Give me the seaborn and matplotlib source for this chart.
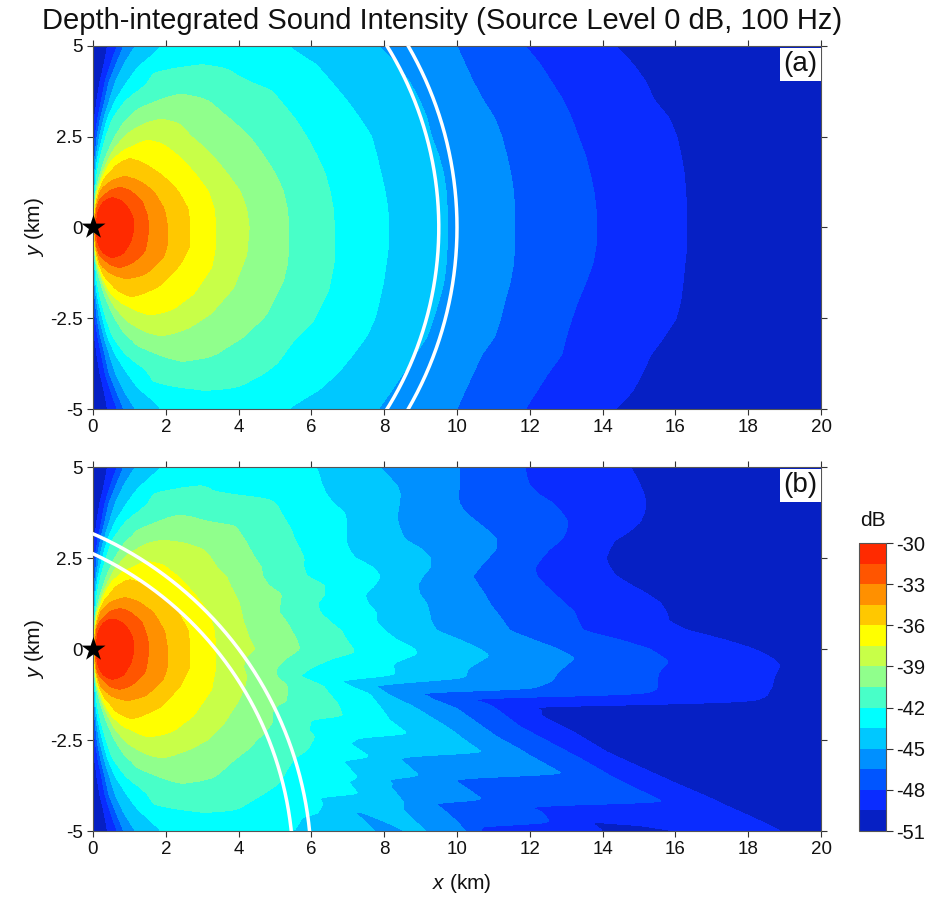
import numpy as np
import pandas as pd
import matplotlib
matplotlib.use("Agg")
import matplotlib.pyplot as plt
import seaborn as sns

# ---- dB levels and band colours -------------------------------------------------
band_edges = [-51, -49.5, -48, -46.5, -45, -43.5, -42, -40.5, -39, -37.5, -36, -34.5, -33, -31.5, -30]
band_colours = ["#0620C4", "#0A2CFF", "#0055FF", "#0090FF", "#00C8FF", "#00FFFF", "#48FFC8",
                "#90FF8C", "#C8FF48", "#FFFF00", "#FFC800", "#FF9000", "#FF5500", "#FF2A00"]
cbar_ticks = [-30, -33, -36, -39, -42, -45, -48, -51]
x_ticks = list(range(0, 21, 2))
y_ticks = [5, 2.5, 0, -2.5, -5]
y_tick_labels = ["5", "2.5", "0", "-2.5", "-5"]

# ---- near-source side of each contour: (|y| km, x km) ----------------------------
near = {
    -49.5: [(0, 0), (2.5, .01), (3, .05), (3.5, .12), (4, .21), (4.5, .33), (5, .42)],
    -48: [(0, 0), (2, .03), (2.5, .06), (3, .14), (3.5, .24), (4, .33), (4.5, .49), (5, .67)],
    -46.5: [(0, 0), (1.5, .01), (2, .05), (2.5, .10), (3, .19), (3.5, .32), (4, .43), (4.5, .63), (5, .83)],
    -45: [(0, 0), (1, .01), (1.5, .03), (2, .08), (2.5, .17), (3, .30), (3.5, .45), (4, .60), (4.5, .83), (5, 1.15)],
    -43.5: [(0, 0), (1, .02), (1.5, .06), (2, .15), (2.5, .27), (3, .39), (3.5, .60), (4, .92), (4.5, 1.29), (5, 1.84)],
    -42: [(0, 0), (1, .03), (1.5, .08), (2, .19), (2.5, .33), (3, .51), (3.5, .88), (4, 1.47), (4.3, 1.66), (4.4, 2.3), (4.5, 3.03)],
    -40.5: [(0, 0), (.5, .02), (1.04, .10), (1.87, .33), (2.42, .56), (2.88, .83), (3.29, 1.2), (3.53, 1.84), (3.7, 2.39)],
    -39: [(0, 0), (.5, .04), (.95, .10), (1.55, .28), (2.16, .56), (2.62, .92), (2.89, 1.43), (3, 1.89)],
    -37.5: [(0, 0), (.5, .05), (.76, .05), (1.31, .19), (1.82, .47), (2.14, .79), (2.28, 1.15), (2.42, 1.47)],
    -36: [(0, 0), (.58, .04), (1.04, .15), (1.41, .33), (1.73, .6), (1.92, 1.0)],
    -34.5: [(0, 0), (.67, .05), (1.04, .19), (1.31, .47), (1.42, .88)],
    -33: [(0, 0), (.49, .05), (.76, .19), (1.03, .42), (1.12, .74)],
    -31.5: [(0, 0), (.25, .02), (.49, .10), (.72, .24), (.85, .51)],
}

# ---- far side of the inner contours, shared by both panels: (y km, x km) ---------
core = {
    -31.5: [(.85, .51), (.72, .83), (.49, 1.02), (.3, 1.11), (0, 1.15), (-.38, 1.06), (-.74, .83), (-.85, .51)],
    -33: [(1.12, .74), (1.03, 1.02), (.75, 1.34), (.3, 1.5), (0, 1.52), (-.3, 1.5), (-.65, 1.43), (-.97, 1.11), (-1.12, .74)],
    -34.5: [(1.42, .88), (1.3, 1.27), (1, 1.66), (.5, 1.96), (0, 2.05), (-.5, 2.04), (-.84, 1.93), (-1.29, 1.47), (-1.42, .99)],
    -36: [(1.92, 1.0), (1.75, 1.43), (1.5, 1.84), (1, 2.34), (.5, 2.62), (0, 2.66), (-.5, 2.66), (-1.02, 2.39), (-1.62, 1.84), (-1.92, 1.11)],
    -37.5: [(2.42, 1.47), (2.3, 1.93), (2, 2.34), (1.5, 2.8), (1, 3.17), (.5, 3.33), (0, 3.37), (-.5, 3.37), (-1.11, 3.26), (-1.85, 2.76), (-2.26, 2.21), (-2.42, 1.61)],
}

# ---- far side of the outer contours, panel (a) -----------------------------------
panel_a = {
    -39: [(3, 1.89), (2.85, 2.39), (2.5, 2.71), (2, 3.26), (1.5, 3.67), (1, 4.04), (.5, 4.22), (0, 4.29), (-.74, 4.22), (-1.66, 3.86), (-2.4, 3.21), (-2.76, 2.66), (-3, 1.93)],
    -40.5: [(3.7, 2.39), (3.6, 2.8), (3.5, 3.17), (3, 3.76), (2.5, 4.31), (2, 4.68), (1.5, 5.0), (1, 5.23), (.5, 5.34), (0, 5.38), (-.5, 5.38), (-1, 5.34), (-1.48, 5.23), (-2.4, 4.77), (-3.04, 4.13), (-3.54, 3.31), (-3.7, 2.48)],
    -42: [(4.5, 3.03), (4.38, 3.67), (4.2, 3.95), (4, 4.36), (3.79, 4.91), (3.5, 5.14), (3, 5.55), (2.5, 5.87), (2, 6.14), (1.5, 6.37), (1, 6.51), (.5, 6.6), (0, 6.63), (-.5, 6.63), (-1, 6.62), (-1.75, 6.47), (-2.58, 6.05), (-3.13, 5.5), (-3.77, 5.05), (-4.05, 4.68), (-4.42, 3.95), (-4.5, 3.03)],
    -43.5: [(5, 5.37), (4.5, 6.13), (4, 6.56), (3.5, 6.97), (3, 7.34), (2.5, 7.66), (2, 7.79), (1.5, 7.91), (1, 8.02), (.5, 8.1), (0, 8.12), (-.5, 8.12), (-1, 8.05), (-1.5, 7.98), (-2, 7.87), (-2.5, 7.75), (-3, 7.52), (-3.5, 7.15), (-4, 6.74), (-4.5, 6.19), (-5, 5.37)],
    -45: [(5, 7.84), (4.5, 8.34), (4, 8.71), (3.5, 8.98), (3, 9.18), (2.5, 9.3), (2, 9.49), (1.5, 9.63), (1, 9.7), (.5, 9.73), (0, 9.73), (-.5, 9.73), (-1, 9.7), (-1.5, 9.64), (-2, 9.51), (-2.5, 9.35), (-3, 9.18), (-3.5, 8.85), (-4, 8.53), (-4.5, 8.2), (-5, 7.84)],
    -46.5: [(5, 10.0), (4.5, 10.22), (4, 10.45), (3.5, 10.72), (3, 11.04), (2.5, 11.23), (2, 11.36), (1.5, 11.47), (1, 11.55), (.5, 11.58), (0, 11.59), (-.5, 11.58), (-1, 11.55), (-1.5, 11.46), (-2, 11.32), (-2.5, 11.2), (-3, 11.04), (-3.5, 10.68), (-4, 10.45), (-4.5, 10.22), (-5, 10.0)],
    -48: [(5, 11.87), (4.5, 12.28), (4, 12.6), (3.5, 12.92), (3, 13.15), (2.5, 13.33), (2, 13.52), (1.5, 13.65), (1, 13.76), (.5, 13.82), (0, 13.84), (-.5, 13.82), (-1, 13.73), (-1.5, 13.54), (-2, 13.33), (-2.5, 13.15), (-3, 13.0), (-3.5, 12.88), (-4, 12.51), (-4.5, 12.19), (-5, 11.87)],
    -49.5: [(5, 14.3), (4.5, 14.8), (4, 15.17), (3.5, 15.39), (3, 15.81), (2.5, 16.02), (2, 16.13), (1.5, 16.22), (1, 16.26), (.5, 16.29), (0, 16.29), (-.5, 16.29), (-1, 16.24), (-1.5, 16.19), (-2, 16.13), (-2.5, 16.0), (-3, 15.67), (-3.5, 15.3), (-4, 15.07), (-4.5, 14.8), (-5, 14.3)],
}

# ---- far side of the outer contours, panel (b) -----------------------------------
panel_b = {
    -39: [(3, 1.89), (2.9, 2.55), (2.75, 3.03), (2.5, 3.26), (2.25, 3.4), (2, 3.67), (1.75, 3.77), (1.5, 3.9), (1.25, 4.02), (1, 4.08), (.75, 4.13), (.5, 4.22), (.25, 4.31), (0, 4.45), (-.25, 4.18), (-.5, 4.13), (-.75, 4.22), (-1, 4.18), (-1.25, 4.07), (-1.5, 3.95), (-1.75, 3.78), (-2, 3.63), (-2.25, 3.4), (-2.5, 3.17), (-2.76, 2.66), (-3, 1.93)],
    -40.5: [(3.7, 2.39), (3.5, 3.12), (3.4, 3.9), (3.25, 4.02), (3, 4.18), (2.75, 4.31), (2.5, 4.45), (2.25, 4.63), (2, 4.66), (1.75, 4.82), (1.5, 5.18), (1.25, 5.14), (1, 5.12), (.75, 5.32), (.5, 5.46), (.25, 5.6), (0, 5.68), (-.25, 5.32), (-.5, 5.05), (-.75, 5.05), (-1, 5.34), (-1.25, 5.34), (-1.45, 5.3), (-1.55, 5.05), (-1.75, 4.91), (-2, 4.94), (-2.25, 4.77), (-2.5, 4.5), (-2.75, 4.27), (-3, 3.95), (-3.25, 3.67), (-3.54, 3.31), (-3.7, 2.48)],
    -42: [(4.5, 3.03), (4.32, 3.31), (4.2, 4.2), (4.15, 4.77), (4, 5.05), (3.75, 5.18), (3.5, 5.32), (3.25, 5.46), (3, 5.55), (2.75, 5.69), (2.5, 5.8), (2.25, 5.78), (2, 5.87), (1.75, 6.37), (1.5, 6.37), (1.25, 6.17), (1, 6.24), (.75, 6.51), (.5, 6.83), (.25, 6.97), (0, 7.15), (-.09, 7.2), (-.25, 6.6), (-.5, 6.0), (-.75, 5.64), (-1, 6.33), (-1.25, 6.51), (-1.5, 6.74), (-1.86, 6.88), (-1.92, 5.98), (-2.25, 5.92), (-2.41, 6.1), (-2.75, 5.92), (-3, 5.55), (-3.25, 5.37), (-3.5, 5.23), (-3.75, 5.05), (-4.05, 4.59), (-4.42, 3.95), (-4.5, 3.03)],
    -43.5: [(5, 6.15), (4.75, 6.24), (4.5, 6.31), (4.25, 6.42), (4, 6.6), (3.75, 6.92), (3.5, 6.97), (3.25, 6.95), (3, 6.95), (2.75, 7.02), (2.5, 7.2), (2.25, 7.7), (2, 7.91), (1.75, 7.75), (1.5, 7.47), (1.25, 7.56), (1, 7.79), (.75, 7.79), (.5, 8.02), (.25, 8.35), (0, 8.85), (-.14, 8.9), (-.39, 8.25), (-.72, 8.3), (-.87, 6.69), (-1.22, 7.61), (-1.95, 8.16), (-2.36, 8.71), (-2.42, 7.2), (-2.45, 7.29), (-2.59, 7.02), (-3, 7.66), (-3.05, 6.85), (-3.55, 7.29), (-3.64, 7.02), (-4.01, 7.34), (-4.06, 6.15), (-4.24, 6.33), (-4.56, 6.14), (-4.6, 5.78), (-4.97, 5.55), (-5, 5.45)],
    -45: [(5, 7.88), (4.75, 8.11), (4.5, 8.36), (4.25, 8.45), (4, 8.42), (3.75, 8.37), (3.5, 8.37), (3.25, 8.45), (3, 8.57), (2.75, 9.03), (2.5, 9.28), (2.25, 9.28), (2, 9.06), (1.75, 8.91), (1.5, 8.98), (1.25, 9.17), (1, 9.24), (.75, 9.29), (.5, 9.44), (.25, 10.08), (0, 10.63), (-.18, 10.9), (-.53, 10.31), (-.8, 10.22), (-.99, 7.61), (-1.32, 8.25), (-1.58, 8.8), (-2.13, 9.72), (-2.87, 10.77), (-2.93, 8.65), (-3, 8.4), (-3.51, 8.98), (-3.57, 8.0), (-3.69, 8.25), (-3.78, 8.16), (-4.24, 8.57), (-4.42, 8.53), (-5, 9.17)],
    -46.5: [(5, 10.08), (4.5, 10.08), (4.25, 10.02), (4, 10.06), (3.75, 10.22), (3.5, 10.54), (3.25, 10.86), (3, 11.11), (2.75, 11.09), (2.5, 10.86), (2.25, 10.63), (2, 10.43), (1.75, 10.59), (1.5, 10.77), (1.25, 10.9), (1, 11.09), (.75, 11.28), (.5, 11.46), (.25, 12.1), (0, 12.78), (-.25, 13.24), (-.62, 12.79), (-.9, 12.6), (-1.12, 12.0), (-1.17, 8.8), (-1.63, 9.99), (-2.41, 11.09), (-2.96, 12.1), (-3.46, 13.0), (-3.52, 10.6), (-3.56, 9.85), (-4.15, 10.72), (-4.2, 9.3), (-4.42, 9.62), (-5, 10.27)],
    -48: [(5, 11.87), (4.75, 11.9), (4.5, 11.99), (4.25, 12.24), (4, 12.65), (3.75, 12.88), (3.5, 13.06), (3.25, 13.01), (3, 12.88), (2.75, 12.55), (2.5, 12.33), (2.25, 12.14), (2, 12.19), (1.75, 12.42), (1.5, 12.69), (1.25, 12.97), (1, 13.24), (.75, 13.33), (.5, 13.47), (.25, 14.48), (0, 15.3), (-.35, 15.83), (-.65, 15.53), (-1.13, 15.49), (-1.26, 15.03), (-1.3, 13.0), (-1.33, 10.13), (-1.58, 11.0), (-2.13, 11.73), (-3, 13.38), (-3.42, 14.11), (-4.24, 15.8), (-4.3, 11.9), (-4.51, 12.37), (-4.79, 12.55), (-4.82, 10.7), (-5, 10.6)],
    -49.5: [(5, 14.73), (4.75, 14.89), (4.5, 15.01), (4.25, 15.12), (4, 15.17), (3.75, 15.12), (3.5, 15.01), (3.25, 14.71), (3, 14.31), (2.75, 14.16), (2.5, 14.06), (2.25, 14.16), (2, 14.34), (1.75, 14.75), (1.5, 15.21), (1.25, 15.58), (1, 15.74), (.75, 15.81), (.5, 16.31), (.25, 17.32), (0, 18.14), (-.25, 18.65), (-.44, 18.87), (-.75, 18.72), (-1, 18.66), (-1.3, 18.5), (-1.45, 18.14), (-1.52, 15.3), (-1.54, 11.55), (-1.68, 12.28), (-1.86, 12.28), (-2.32, 13.2), (-2.87, 14.11), (-3.69, 15.94), (-4.47, 17.77), (-4.97, 18.87), (-5, 18.92)],
}

# small closed patches of a lower band in panel (b): y, x start, x end
pocket_45_y = [-4.42, -4.5, -4.75, -5]
pocket_45_start = [7.01, 7.2, 7.5, 7.75]
pocket_45_end = [7.01, 7.4, 8.0, 8.5]
pocket_495_y = [-4.74, -4.85, -5]
pocket_495_start = [13.65, 13.8, 14.0]
pocket_495_end = [13.65, 15.0, 15.94]

# range rings: centre x, centre y, radii (km)
ring_a = (0, 0, [9.5, 10])
ring_b = (-4, -6, [9.5, 10])

FLOOR = -50.25
xg = np.linspace(0, 20, 1401)
yg = np.linspace(-5, 5, 1001)


def crossing(table, y):
    ys, xs = np.array(table)[::-1].T
    return None if y < ys[0] or y > ys[-1] else np.interp(y, ys, xs)


def build_field(far):
    rows = []
    levels = sorted(far)
    for y in yg:
        px, pz = [-0.02], [FLOOR]
        right = []
        top = None
        for lev in levels:
            xr = crossing(far[lev], y)
            if xr is None:
                continue
            n = np.array(near[lev]).T
            xl = min(np.interp(abs(y), n[0], n[1]), xr)
            px.append(xl)
            pz.append(lev)
            right.append((xr, lev))
            top = lev
        last_l, last_r = px[-1], right[-1][0]
        px.append((last_l + last_r) / 2)
        pz.append(top + .75)
        for xr, lev in reversed(right):
            px.append(xr)
            pz.append(lev)
        px.append(21)
        pz.append(FLOOR)
        px = np.array(px)
        for i in range(1, len(px)):
            if px[i] <= px[i - 1]:
                px[i] = px[i - 1] + 2e-4
        rows.append(np.interp(xg, px, pz))
    return np.array(rows)


def add_pocket(Z, value, ys, starts, ends):
    X, Y = np.meshgrid(xg, yg)
    inside = (Y <= ys[0]) & (X >= np.interp(Y, ys[::-1], starts[::-1])) & (X <= np.interp(Y, ys[::-1], ends[::-1]))
    Z[inside] = value


def soften(Z, win_y=13, win_x=7, passes=2):
    # rounds the corners between read-off points, as in the smooth original contours
    for axis, win in [(0, win_y), (1, win_x)]:
        for _ in range(passes):
            pad = [(0, 0), (0, 0)]
            pad[axis] = (win // 2 + 1, win // 2)
            cum = np.cumsum(np.pad(Z, pad, mode="edge"), axis=axis)
            Z = (np.take(cum, range(win, cum.shape[axis]), axis=axis)
                 - np.take(cum, range(0, cum.shape[axis] - win), axis=axis)) / win
    return Z


sns.set_theme(style="ticks", rc={"axes.unicode_minus": False})
plt.rcParams["font.family"] = ["Liberation Sans", "DejaVu Sans"]
plt.rcParams.update({"mathtext.fontset": "custom", "mathtext.rm": "Liberation Sans",
                     "mathtext.it": "Liberation Sans:italic"})

W, H = 928, 897
fig = plt.figure(figsize=(W / 100, H / 100), dpi=100)


def box(l, t, r, b):
    return [l / W, 1 - b / H, (r - l) / W, (b - t) / H]


ax_a = fig.add_axes(box(93, 46, 821, 409))
ax_b = fig.add_axes(box(93, 467, 821, 831))
cax = fig.add_axes(box(859, 543, 886, 831))

Z_a = soften(build_field({**core, **panel_a}))
Z_b = build_field({**core, **panel_b})
add_pocket(Z_b, -45.75, pocket_45_y, pocket_45_start, pocket_45_end)
add_pocket(Z_b, FLOOR, pocket_495_y, pocket_495_start, pocket_495_end)
Z_b = soften(Z_b, win_y=9, win_x=7)

EDGE = "#555555"
for ax, Z, ring, tag in [(ax_a, Z_a, ring_a, "(a)"), (ax_b, Z_b, ring_b, "(b)")]:
    cs = ax.contourf(xg, yg, Z, levels=band_edges, colors=band_colours, extend="neither")
    cx, cy, radii = ring
    t = np.linspace(-np.pi, np.pi, 721)
    for r in radii:
        ring_df = pd.DataFrame({"x": cx + r * np.cos(t), "y": cy + r * np.sin(t)})
        sns.lineplot(data=ring_df, x="x", y="y", sort=False, estimator=None, color="white",
                     linewidth=2.5, ax=ax, zorder=3)
    sns.scatterplot(x=[0], y=[0], marker="*", s=330, color="black", linewidth=0, ax=ax,
                    clip_on=False, zorder=5)
    ax.set_xlim(0, 20)
    ax.set_ylim(-5, 5)
    ax.set_xticks(x_ticks)
    ax.set_yticks(y_ticks)
    ax.set_yticklabels(y_tick_labels)
    ax.tick_params(axis="both", direction="out", length=4.5, width=0.8, color="#333333",
                   top=True, right=True, labelsize=13.5, pad=3, labelcolor="#111111")
    ax.set_xlabel("")
    ax.set_ylabel(r"$\mathit{y}$ (km)", fontsize=15, labelpad=3, color="#111111")
    for s in ax.spines.values():
        s.set_linewidth(0.8)
        s.set_color(EDGE)
    ax.text(0.9955, 0.985, tag, transform=ax.transAxes, ha="right", va="top", fontsize=20,
            color="#111111", zorder=6,
            bbox=dict(facecolor="white", edgecolor="none", pad=2.5))

ax_b.set_xlabel(r"$\mathit{x}$ (km)", fontsize=15, color="#111111", labelpad=10, x=0.506)
fig.text(442 / W, 1 - 21 / H, "Depth-integrated Sound Intensity (Source Level 0 dB, 100 Hz)",
         ha="center", va="center", fontsize=21, color="#111111")

cb = fig.colorbar(cs, cax=cax, ticks=cbar_ticks, drawedges=False)
cb.ax.set_yticklabels([str(v) for v in cbar_ticks])
cb.ax.tick_params(direction="out", length=5, width=0.8, labelsize=14.5, pad=2, color="#333333",
                  labelcolor="#111111")
cb.outline.set_linewidth(0.8)
cb.outline.set_edgecolor(EDGE)
fig.text(873 / W, 1 - 521 / H, "dB", ha="center", va="center", fontsize=15, color="#111111")

fig.savefig("out.png", dpi=100)
